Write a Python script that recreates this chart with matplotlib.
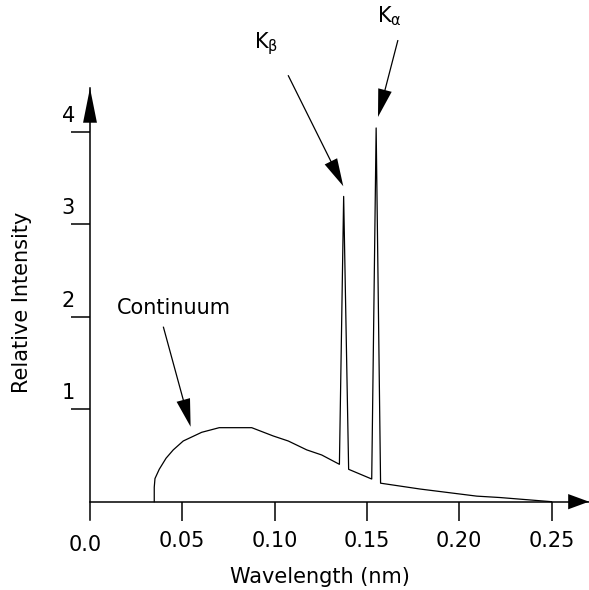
import matplotlib.pyplot as plt
from matplotlib.transforms import ScaledTranslation

# spectrum (wavelength in nm, relative intensity)
wavelength = [0.0348, 0.0348, 0.0352, 0.0375, 0.0412, 0.0451, 0.0505, 0.0605,
              0.0700, 0.0876, 0.0993, 0.1074, 0.1174, 0.1255, 0.1351,
              0.1374, 0.1401, 0.1526, 0.1550, 0.1574, 0.1787, 0.2095,
              0.2220, 0.2500]
intensity = [0.0, 0.156, 0.25, 0.35, 0.47, 0.56, 0.656, 0.75,
             0.80, 0.80, 0.71, 0.656, 0.56, 0.505, 0.404,
             3.30, 0.35, 0.245, 4.04, 0.20, 0.137, 0.06,
             0.045, 0.0]

x_ticks = [0.05, 0.10, 0.15, 0.20, 0.25]
x_tick_labels = ["0.05", "0.10", "0.15", "0.20", "0.25"]
y_ticks = [1, 2, 3, 4]
y_tick_labels = ["1", "2", "3", "4"]

# annotations: (label, text position, arrow start, arrow tip)
notes = [
    ("Continuum", (0.0452, 2.094), (0.0397, 1.892), (0.0545, 0.81)),
    (r"K$_\mathregular{\beta}$", (0.0955, 4.95), (0.1073, 4.61), (0.1372, 3.41)),
    (r"K$_\mathregular{\alpha}$", (0.1620, 5.25), (0.1668, 4.99), (0.1560, 4.159)),
]

plt.rcParams["font.family"] = ["DejaVu Sans"]
fs = 15

fig = plt.figure(figsize=(5.89, 5.90), dpi=100)
ax = fig.add_axes([90 / 589, 70 / 590, 499 / 589, 432 / 590])
ax.set_xlim(0, 0.2703)
ax.set_ylim(-0.198, 4.472)

ax.plot(wavelength, intensity, color="black", lw=0.9)

# axes drawn through the origin
for side in ["top", "right"]:
    ax.spines[side].set_visible(False)
ax.spines["bottom"].set_position(("data", 0))
ax.spines["left"].set_position(("data", 0))
for side in ["bottom", "left"]:
    ax.spines[side].set_linewidth(1.1)
ax.set_xticks(x_ticks)
ax.set_yticks(y_ticks)
ax.tick_params(direction="out", length=13.7, width=1.1, labelbottom=False, labelleft=False)

# arrow heads on the axes
ax.annotate("", xy=(0.2703, 0), xytext=(0.2590, 0), annotation_clip=False,
            arrowprops=dict(width=0.1, headwidth=11, headlength=15, color="black", lw=0))
ax.annotate("", xy=(0, 4.472), xytext=(0, 4.0), annotation_clip=False,
            arrowprops=dict(width=0.1, headwidth=10, headlength=25, color="black", lw=0))

# tick labels, placed like the original (y labels sit above their ticks)
px = 1 / 100
for v, s in zip(x_ticks, x_tick_labels):
    ax.text(v, 0, s, fontsize=fs, ha="center", va="center",
            transform=ax.transData + ScaledTranslation(0, -39 * px, fig.dpi_scale_trans))
ax.text(0, 0, "0.0", fontsize=fs, ha="center", va="center",
        transform=ax.transData + ScaledTranslation(-5 * px, -43 * px, fig.dpi_scale_trans))
for v, s in zip(y_ticks, y_tick_labels):
    ax.text(0, v, s, fontsize=fs, ha="right", va="center",
            transform=ax.transData + ScaledTranslation(-15 * px, 16 * px, fig.dpi_scale_trans))

fig.text(320 / 589, 1 - 577 / 590, "Wavelength (nm)", fontsize=fs, ha="center", va="center")
fig.text(22 / 589, 1 - 302 / 590, "Relative Intensity", fontsize=fs, ha="center", va="center",
         rotation=90)

for label, txt, start, tip in notes:
    ax.text(txt[0], txt[1], label, fontsize=fs, ha="center", va="center")
    ax.annotate("", xy=tip, xytext=start, annotation_clip=False,
                arrowprops=dict(width=0.9, headwidth=10, headlength=20, color="black", lw=0))

fig.savefig("out.png", dpi=100)
